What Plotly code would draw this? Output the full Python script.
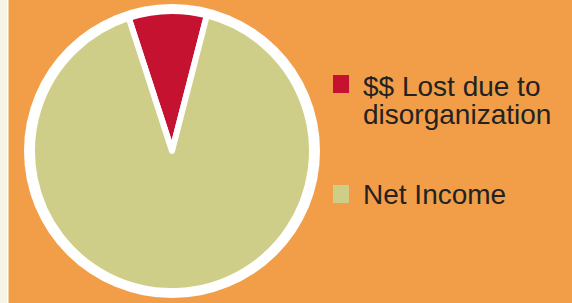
import textwrap
import plotly.graph_objects as go

# ---- data ----
labels = ["$$ Lost due to disorganization", "Net Income"]
values = [9, 91]
colors = ["#C41230", "#CFCE88"]

W, H = 572, 303
BG = "#F29E48"

# pie geometry (pixels)
cx, cy, r = 172, 151, 140

def px(x):
    return x / W

def py(y):
    return (H - y) / H

fig = go.Figure()
fig.add_trace(go.Pie(
    labels=labels,
    values=values,
    sort=False,
    direction="clockwise",
    rotation=-18,
    marker=dict(colors=colors, line=dict(color="white", width=6)),
    textinfo="none",
    hoverinfo="label+percent",
    showlegend=False,
    domain=dict(x=[px(cx - r), px(cx + r)], y=[py(cy + r), py(cy - r)]),
))

shapes = [
    # left cream strip + white rule
    dict(type="rect", xref="paper", yref="paper", x0=0, x1=px(7), y0=0, y1=1,
         fillcolor="#F6F4E6", line=dict(width=0), layer="below"),
    dict(type="rect", xref="paper", yref="paper", x0=px(7), x1=px(8.5), y0=0, y1=1,
         fillcolor="white", line=dict(width=0), layer="below"),
    # white ring behind the pie
    dict(type="circle", xref="paper", yref="paper",
         x0=px(cx - 148), x1=px(cx + 148), y0=py(cy + 147), y1=py(cy - 147),
         fillcolor="white", line=dict(width=0), layer="below"),
]

annotations = []
font = dict(family="Liberation Sans, Arial, sans-serif", size=28, color="#222222")
y_line = {0: [86, 114], 1: [194]}
sq_top = {0: 75, 1: 185}
for i, lab in enumerate(labels):
    lines = textwrap.wrap(lab, 15)
    top = sq_top[i]
    shapes.append(dict(type="rect", xref="paper", yref="paper",
                       x0=px(333), x1=px(349), y0=py(top + 18), y1=py(top),
                       fillcolor=colors[i], line=dict(width=0)))
    for j, ln in enumerate(lines):
        annotations.append(dict(
            text=ln, xref="paper", yref="paper", x=px(361), y=py(y_line[i][j]),
            xanchor="left", yanchor="middle", showarrow=False, font=font))

fig.update_layout(
    width=W, height=H,
    margin=dict(l=0, r=0, t=0, b=0),
    paper_bgcolor=BG, plot_bgcolor=BG,
    shapes=shapes, annotations=annotations,
    showlegend=False,
)

fig.write_html(
    "out.html",
    config={"displayModeBar": False},
    post_script="document.body.style.margin='0';document.body.style.padding='0';",
)
